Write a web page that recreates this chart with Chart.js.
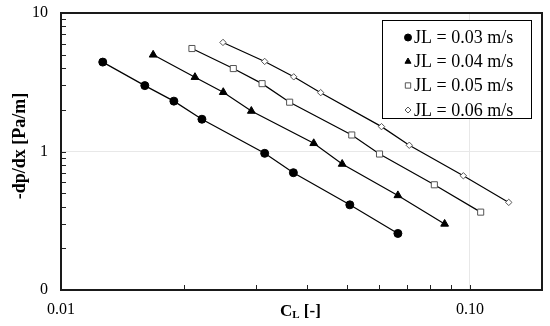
<!DOCTYPE html>
<html>
<head>
<meta charset="utf-8">
<script src="https://cdn.jsdelivr.net/npm/chart.js@4.4.0/dist/chart.umd.min.js"></script>
<style>
  html, body { margin: 0; padding: 0; background: #fff; }
  #wrap { width: 550px; height: 326px; }
</style>
</head>
<body>
<div id="wrap"><canvas id="chart"></canvas></div>
<script>
const seriesNames = ['JL = 0.03 m/s', 'JL = 0.04 m/s', 'JL = 0.05 m/s', 'JL = 0.06 m/s'];

// C_L [-] and -dp/dx [Pa/m]
const cl003 = [0.01265, 0.01603, 0.01888, 0.02211, 0.03148, 0.03700, 0.05084, 0.06664];
const dp003 = [4.42, 2.99, 2.31, 1.71, 0.970, 0.703, 0.412, 0.256];
const cl004 = [0.01680, 0.02126, 0.02493, 0.02920, 0.04149, 0.04870, 0.06664, 0.0867];
const dp004 = [4.99, 3.44, 2.68, 1.96, 1.146, 0.812, 0.482, 0.300];
const cl005 = [0.02090, 0.02638, 0.03102, 0.03623, 0.05140, 0.06009, 0.08182, 0.1062];
const dp005 = [5.54, 3.97, 3.09, 2.27, 1.316, 0.959, 0.575, 0.365];
const cl006 = [0.02489, 0.03148, 0.03707, 0.04315, 0.06077, 0.07105, 0.09634, 0.1244];
const dp006 = [6.13, 4.47, 3.46, 2.66, 1.512, 1.109, 0.668, 0.429];

const xTickValues = [0.01, 0.02, 0.03, 0.04, 0.05, 0.06, 0.07, 0.08, 0.09, 0.1];
const yTickValues = [0.1, 0.2, 0.3, 0.4, 0.5, 0.6, 0.7, 0.8, 0.9, 1, 2, 3, 4, 5, 6, 7, 8, 9, 10];
const xLabels = { 0.01: '0.01', 0.1: '0.10' };
const yLabels = { 0.1: '0', 1: '1', 10: '10' };

const serif = "'Liberation Serif', 'Times New Roman', serif";

function toPoints(xs, ys) {
    return xs.map((x, i) => ({ x: x, y: ys[i] }));
}

const styles = [
    { pointStyle: 'circle', radius: 4, bg: '#000', border: '#000', legendRadius: 3.5 },
    { pointStyle: 'triangle', radius: 4.5, bg: '#000', border: '#000', legendRadius: 3.5 },
    { pointStyle: 'rect', radius: 4.3, bg: '#fff', border: '#555', legendRadius: 3.8 },
    { pointStyle: 'rectRot', radius: 3.2, bg: '#fff', border: '#555', legendRadius: 3 }
];
const allX = [cl003, cl004, cl005, cl006];
const allY = [dp003, dp004, dp005, dp006];

const datasets = seriesNames.map((name, i) => ({
    label: name,
    data: toPoints(allX[i], allY[i]),
    showLine: true,
    borderColor: '#000',
    borderWidth: 1.2,
    tension: 0,
    pointStyle: styles[i].pointStyle,
    pointRadius: styles[i].radius,
    pointBackgroundColor: styles[i].bg,
    pointBorderColor: styles[i].border,
    pointBorderWidth: 1
}));

const decorPlugin = {
    id: 'decor',
    afterDraw(chart) {
        const ctx = chart.ctx;
        const a = chart.chartArea;
        const xs = chart.scales.x, ys = chart.scales.y;
        ctx.save();
        // inward ticks
        ctx.strokeStyle = '#222';
        ctx.lineWidth = 1;
        yTickValues.forEach(v => {
            const py = Math.round(ys.getPixelForValue(v)) + 0.5;
            ctx.beginPath();
            ctx.moveTo(a.left, py);
            ctx.lineTo(a.left + 5, py);
            ctx.stroke();
        });
        xTickValues.forEach(v => {
            const px = Math.round(xs.getPixelForValue(v)) + 0.5;
            ctx.beginPath();
            ctx.moveTo(px, a.bottom);
            ctx.lineTo(px, a.bottom - 5);
            ctx.stroke();
        });
        // frame
        ctx.strokeStyle = '#1a1a1a';
        ctx.lineWidth = 2;
        ctx.strokeRect(a.left, a.top, a.right - a.left, a.bottom - a.top);

        // axis titles
        ctx.fillStyle = '#000';
        ctx.textBaseline = 'alphabetic';
        ctx.font = 'bold 17px ' + serif;
        ctx.textAlign = 'left';
        let x0 = 280;
        ctx.fillText('C', x0, 316);
        x0 += ctx.measureText('C').width;
        ctx.font = 'bold 11px ' + serif;
        ctx.fillText('L', x0, 318);
        x0 += ctx.measureText('L').width;
        ctx.font = 'bold 17px ' + serif;
        ctx.fillText(' [-]', x0, 316);

        ctx.save();
        ctx.translate(25, 146);
        ctx.rotate(-Math.PI / 2);
        ctx.textAlign = 'center';
        ctx.font = 'bold 18px ' + serif;
        ctx.fillText('-dp/dx [Pa/m]', 0, 0);
        ctx.restore();

        // legend box
        const bx = 382, by = 20, bw = 149, bh = 98;
        ctx.fillStyle = '#fff';
        ctx.fillRect(bx, by, bw, bh);
        ctx.strokeStyle = '#000';
        ctx.lineWidth = 1;
        ctx.strokeRect(bx + 0.5, by + 0.5, bw, bh);
        const rowsY = [37.5, 61.5, 85.5, 110];
        ctx.font = '18px ' + serif;
        ctx.textAlign = 'left';
        ctx.textBaseline = 'middle';
        seriesNames.forEach((name, i) => {
            const st = styles[i];
            ctx.fillStyle = st.bg;
            ctx.strokeStyle = st.border;
            ctx.lineWidth = 1;
            Chart.helpers.drawPoint(ctx, { pointStyle: st.pointStyle, radius: st.legendRadius, rotation: 0, borderWidth: 1 }, 408, rowsY[i]);
            ctx.fillStyle = '#000';
            ctx.fillText(name, 414, rowsY[i] + 1);
        });
        ctx.restore();
    }
};

new Chart(document.getElementById('chart'), {
    type: 'scatter',
    data: { datasets: datasets },
    options: {
        responsive: true,
        maintainAspectRatio: false,
        animation: false,
        devicePixelRatio: 1,
        layout: { padding: { left: 0, right: 8, top: 13, bottom: 0 } },
        plugins: { legend: { display: false }, tooltip: { enabled: false } },
        scales: {
            x: {
                type: 'logarithmic',
                min: 0.01,
                max: 0.15,
                afterBuildTicks: s => { s.ticks = xTickValues.map(v => ({ value: v })); },
                afterFit: s => { s.height = 36; s.paddingLeft = 0; s.paddingRight = 0; },
                grid: {
                    drawTicks: false,
                    color: c => (c.tick && c.tick.value === 0.1) ? '#e8e8e8' : 'rgba(0,0,0,0)'
                },
                border: { display: false },
                ticks: {
                    autoSkip: false,
                    maxRotation: 0,
                    padding: 10,
                    color: '#000',
                    font: { family: serif, size: 16 },
                    callback: v => xLabels[v] || ''
                }
            },
            y: {
                type: 'logarithmic',
                min: 0.1,
                max: 10,
                afterBuildTicks: s => { s.ticks = yTickValues.map(v => ({ value: v })); },
                afterFit: s => { s.width = 61; s.paddingTop = 0; s.paddingBottom = 0; },
                grid: {
                    drawTicks: false,
                    color: c => (c.tick && c.tick.value === 1) ? '#e8e8e8' : 'rgba(0,0,0,0)'
                },
                border: { display: false },
                ticks: {
                    autoSkip: false,
                    padding: 13,
                    color: '#000',
                    font: { family: serif, size: 16 },
                    callback: v => yLabels[v] || ''
                }
            }
        }
    },
    plugins: [decorPlugin]
});
</script>
</body>
</html>
